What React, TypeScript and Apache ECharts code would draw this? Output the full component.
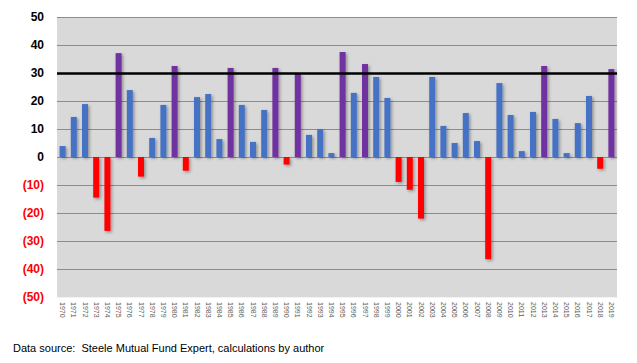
import React, { useEffect, useRef } from "react";
import * as echarts from "echarts";

const years: string[] = [];
for (let y = 1970; y <= 2019; y++) years.push(String(y));

const returns = [
  3.9, 14.3, 18.9, -14.5, -26.4, 37.1, 23.9, -7.0, 6.8, 18.6,
  32.5, -4.9, 21.4, 22.5, 6.4, 31.8, 18.6, 5.4, 16.8, 31.8,
  -2.7, 29.8, 7.9, 10.0, 1.4, 37.5, 22.9, 33.2, 28.6, 21.1,
  -8.9, -11.7, -22.0, 28.6, 11.1, 5.0, 15.7, 5.7, -36.5, 26.4,
  15.0, 2.1, 16.1, 32.5, 13.6, 1.4, 12.1, 21.8, -4.2, 31.4,
];

const threshold = 30;
const yTicks = [-50, -40, -30, -20, -10, 0, 10, 20, 30, 40, 50];
const footnote = "Data source:  Steele Mutual Fund Expert, calculations by author";

const BLUE = "#4472C4";
const PURPLE = "#7030A0";
const RED = "#FF0000";

export default function App() {
  const ref = useRef<HTMLDivElement>(null);
  useEffect(() => {
    if (!ref.current) return;
    const chart = echarts.init(ref.current, undefined, { renderer: "svg" });
    chart.setOption({
      animation: false,
      backgroundColor: "#ffffff",
      grid: {
        left: 57,
        right: 20,
        top: 17,
        bottom: 66,
        show: true,
        backgroundColor: "#D9D9D9",
        borderWidth: 0,
      },
      xAxis: {
        type: "category",
        data: years,
        axisLine: { onZero: false, lineStyle: { color: "#f2f2f2", width: 1 } },
        axisTick: { show: false },
        axisLabel: {
          rotate: -90,
          interval: 0,
          fontSize: 7,
          color: "#595959",
          fontFamily: "Liberation Sans",
          margin: 5,
        },
      },
      yAxis: {
        type: "value",
        min: yTicks[0],
        max: yTicks[yTicks.length - 1],
        interval: 10,
        axisLine: { show: false },
        axisTick: { show: false },
        splitLine: { lineStyle: { color: "#8c8c8c", width: 1 } },
        axisLabel: {
          margin: 13,
          formatter: (v: number) => (v < 0 ? `{r|(${-v})}` : `{b|${v}}`),
          rich: {
            r: { color: RED, fontWeight: "bold", fontSize: 12, fontFamily: "Liberation Sans" },
            b: { color: "#000000", fontWeight: "bold", fontSize: 12, fontFamily: "Liberation Sans" },
          },
        },
      },
      series: [
        {
          type: "bar",
          data: returns.map((v) => ({
            value: v,
            itemStyle: {
              color: v < 0 ? RED : v >= threshold - 0.5 ? PURPLE : BLUE,
              shadowBlur: 3,
              shadowColor: "rgba(0,0,0,0.35)",
              shadowOffsetX: 1.5,
              shadowOffsetY: 1.5,
            },
          })),
          barWidth: 6,
          markLine: {
            silent: true,
            symbol: ["none", "none"],
            label: { show: false },
            lineStyle: { color: "#000000", width: 2.5, type: "solid" },
            data: [{ yAxis: threshold }],
          },
        },
      ],
      graphic: [
        {
          type: "text",
          left: 13,
          top: 342,
          style: {
            text: footnote,
            fontSize: 11,
            fontFamily: "Liberation Sans",
            fill: "#000000",
          },
        },
      ],
    });
    return () => chart.dispose();
  }, []);
  return (
    <div
      ref={ref}
      style={{ position: "fixed", left: 0, top: 0, width: 637, height: 363 }}
    />
  );
}
